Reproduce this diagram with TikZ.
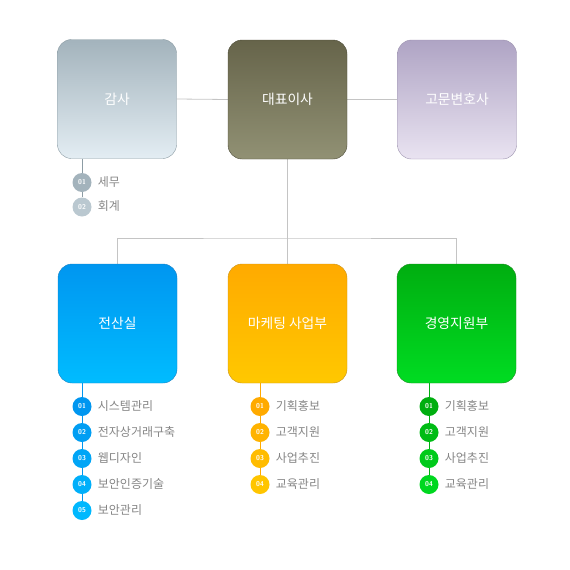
\documentclass[tikz,border=0pt]{standalone}
\usepackage{fontspec}
\setmainfont{Noto Sans CJK KR}
\usepackage{xcolor}
\usepackage{tikz}
\usetikzlibrary{positioning,backgrounds}
\definecolor{linegray}{HTML}{C4C4C4}
\definecolor{itemgray}{HTML}{858585}
\definecolor{auditTop}{HTML}{A3B3BC}
\definecolor{auditBot}{HTML}{E3EDF3}
\definecolor{auditEdge}{HTML}{8C9CA4}
\definecolor{ceoTop}{HTML}{66644A}
\definecolor{ceoBot}{HTML}{919174}
\definecolor{ceoEdge}{HTML}{4C4B38}
\definecolor{lawTop}{HTML}{AFA4C4}
\definecolor{lawBot}{HTML}{E9E3F1}
\definecolor{lawEdge}{HTML}{9C92AE}
\definecolor{itTop}{HTML}{0096F0}
\definecolor{itBot}{HTML}{00BCFF}
\definecolor{itEdge}{HTML}{1A7FC0}
\definecolor{mktTop}{HTML}{FFAA00}
\definecolor{mktBot}{HTML}{FFC800}
\definecolor{mktEdge}{HTML}{C8921A}
\definecolor{mgmtTop}{HTML}{00AE10}
\definecolor{mgmtBot}{HTML}{00DC22}
\definecolor{mgmtEdge}{HTML}{1F8A22}

\begin{document}
\begin{tikzpicture}[
        x=1pt, y=-1pt,
        dept/.style={
          rounded corners=14pt,
          minimum width=119pt,
          minimum height=119pt,
          inner sep=0pt,
          text=white,
          font=\fontsize{13.8}{15}\selectfont
        },
        conn/.style={draw=linegray, line width=0.8pt},
        dot/.style={circle, minimum size=19pt, inner sep=0pt, text=white,
          font=\sffamily\bfseries\fontsize{7}{8}\selectfont},
        duty/.style={right=6pt of #1, inner sep=0pt, text=itemgray,
          text height=9.5pt, text depth=2.5pt,
          font=\fontsize{12}{14}\selectfont}
      ]
        \useasboundingbox (0,0) rectangle (570,570);

        \node[dept, draw=auditEdge, top color=auditTop, bottom color=auditBot] (audit) at (117,99) {감사};
        \node[dept, draw=ceoEdge, top color=ceoTop, bottom color=ceoBot] (ceo) at (287.5,99.5) {대표이사};
        \node[dept, draw=lawEdge, top color=lawTop, bottom color=lawBot] (lawyer) at (457,99.5) {고문변호사};

        \node[dept, draw=itEdge, top color=itTop, bottom color=itBot] (it) at (117.5,323.5) {전산실};
        \node[dept, draw=mktEdge, top color=mktTop, bottom color=mktBot] (mkt) at (287.5,323.5) {마케팅 사업부};
        \node[dept, draw=mgmtEdge, top color=mgmtTop, bottom color=mgmtBot] (mgmt) at (456.5,323.5) {경영지원부};

        \coordinate (bus) at (287.5,238);

        % duties under each box
        \foreach \k/\txt/\m [count=\i] in {01/세무/100, 02/회계/55} {
          \node[dot, fill=auditTop!\m!auditBot!80!auditTop] (au\i) at (82,{158+24.5*\i}) {\k};
          \node[duty=au\i] (aut\i) {\txt};
        }
        \foreach \k/\txt/\m [count=\i] in {01/시스템관리/100, 02/전자상거래구축/80, 03/웹디자인/60, 04/보안인증기술/35, 05/보안관리/10} {
          \node[dot, fill=itTop!\m!itBot] (it\i) at (82,{380.5+26*\i}) {\k};
          \node[duty=it\i] (itt\i) {\txt};
        }
        \foreach \k/\txt/\m [count=\i] in {01/기획홍보/100, 02/고객지원/70, 03/사업추진/40, 04/교육관리/10} {
          \node[dot, fill=mktTop!\m!mktBot] (mk\i) at (260,{380.5+26*\i}) {\k};
          \node[duty=mk\i] (mkt\i) {\txt};
        }
        \foreach \k/\txt/\m [count=\i] in {01/기획홍보/100, 02/고객지원/70, 03/사업추진/40, 04/교육관리/10} {
          \node[dot, fill=mgmtTop!\m!mgmtBot] (mg\i) at (429,{380.5+26*\i}) {\k};
          \node[duty=mg\i] (mgt\i) {\txt};
        }

        \begin{scope}[on background layer]
          \draw[conn] (audit.east) -- (ceo.west);
          \draw[conn] (ceo.east) -- (lawyer.west);
          \draw[conn] (ceo.south) -- (bus);
          \draw[conn] (it.north) |- (bus) -| (mgmt.north);
          \draw[conn] (bus) -- (mkt.north);
          \draw[draw=auditEdge, line width=0.8pt] (au1 |- audit.south) -- (au2);
          \draw[draw=itTop, line width=1pt] (it1 |- it.south) -- (it5);
          \draw[draw=mktTop, line width=1pt] (mk1 |- mkt.south) -- (mk4);
          \draw[draw=mgmtTop, line width=1pt] (mg1 |- mgmt.south) -- (mg4);
        \end{scope}
      \end{tikzpicture}
\end{document}
